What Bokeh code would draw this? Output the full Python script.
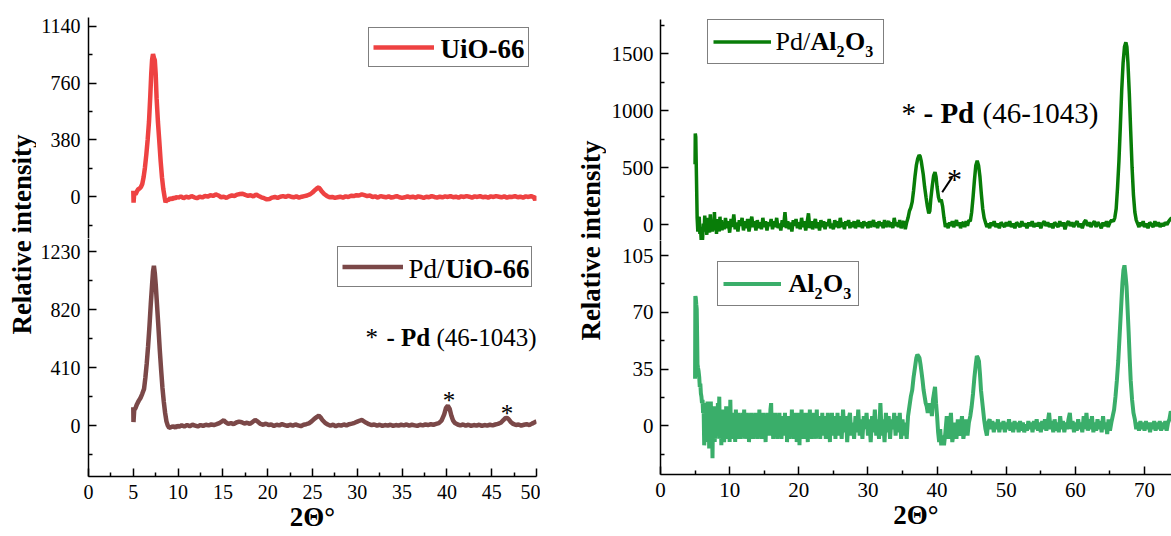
import math
from bokeh.plotting import figure
from bokeh.models import ColumnDataSource, Range1d, FixedTicker, Legend, LegendItem, Label, Arrow
from bokeh.layouts import row, column
from bokeh.embed import file_html
from bokeh.resources import INLINE

FONT = "Liberation Serif"

# ---------------- data (2theta, relative intensity) ----------------
uio66 = [
    (5.0, 40), (5.03, -40), (5.1, 20), (5.25, 15), (5.4, 35), (5.55, 50), (5.7, 55), (5.85, 65),
    (6.0, 85), (6.15, 130), (6.3, 195), (6.45, 280), (6.6, 380), (6.75, 500), (6.9, 680), (7.0, 820),
    (7.1, 920), (7.2, 955), (7.3, 930), (7.4, 915), (7.5, 820), (7.6, 660), (7.75, 500), (7.9, 373),
    (8.05, 240), (8.2, 130), (8.35, 50), (8.5, -5), (8.6, -37), (8.75, -20), (8.9, -25), (9.1, -10),
    (9.3, -18), (9.5, -5), (9.7, -12), (9.9, 0), (10.0, -8), (10.3, 2), (10.6, -10), (10.9, 0),
    (11.2, -6), (11.5, 4), (11.8, -4), (12.1, -10), (12.4, 0), (12.7, -5), (13.0, 5), (13.3, 0),
    (13.6, 10), (13.9, 5), (14.2, 15), (14.5, 8), (14.8, -4), (15.1, 0), (15.4, -8), (15.7, 2),
    (16.0, 8), (16.3, 5), (16.6, 14), (16.9, 18), (17.2, 20), (17.5, 12), (17.8, 6), (18.1, 10),
    (18.4, 2), (18.7, 15), (19.0, 5), (19.3, -4), (19.6, -10), (19.9, -18), (20.2, -15), (20.5, -6),
    (20.8, -2), (21.1, -8), (21.4, 0), (21.7, 4), (22.0, -2), (22.3, 6), (22.6, 0), (22.9, -4),
    (23.2, 2), (23.5, -6), (23.8, 0), (24.1, 4), (24.4, 8), (24.7, 15), (25.0, 28), (25.3, 45),
    (25.55, 58), (25.7, 62), (25.85, 52), (26.0, 38), (26.3, 18), (26.6, 5), (26.9, -4), (27.2, -2),
    (27.5, -8), (27.8, -4), (28.1, 0), (28.4, -6), (28.7, 2), (29.0, -2), (29.3, 6), (29.6, 4),
    (29.9, 10), (30.2, 8), (30.5, 15), (30.8, 10), (31.1, 4), (31.4, 8), (31.7, -2), (32.0, 2),
    (32.3, -6), (32.6, 4), (32.9, 0), (33.2, -4), (33.5, 2), (33.8, -6), (34.1, -2), (34.4, 4),
    (34.7, -4), (35.0, -8), (35.3, -4), (35.6, 2), (35.9, -4), (36.2, 0), (36.5, -6), (36.8, 2),
    (37.1, -2), (37.4, -8), (37.7, 0), (38.0, -4), (38.3, 4), (38.6, -2), (38.9, -6), (39.2, 0),
    (39.5, -4), (39.8, 2), (40.1, -2), (40.4, 4), (40.7, -4), (41.0, 0), (41.3, -6), (41.6, 2),
    (41.9, -2), (42.2, 4), (42.5, 0), (42.8, -6), (43.1, 2), (43.4, -2), (43.7, 4), (44.0, -4),
    (44.3, 0), (44.6, -6), (44.9, 2), (45.2, -2), (45.5, 4), (45.8, 0), (46.1, -4), (46.4, 2),
    (46.7, -6), (47.0, 0), (47.3, -2), (47.6, 4), (47.9, -4), (48.2, 0), (48.5, -6), (48.8, 2),
    (49.1, -2), (49.4, 4), (49.7, -4), (49.85, -22), (50.0, 6),
]

pd_uio66 = [
    (5.0, 130), (5.02, 25), (5.1, 110), (5.25, 125), (5.4, 150), (5.6, 175), (5.8, 195), (6.0, 225),
    (6.2, 260), (6.35, 340), (6.5, 440), (6.65, 560), (6.8, 700), (6.95, 860), (7.1, 1000), (7.2, 1090),
    (7.3, 1130), (7.4, 1080), (7.5, 1000), (7.65, 850), (7.8, 700), (7.95, 540), (8.1, 400), (8.25, 270),
    (8.4, 170), (8.55, 90), (8.7, 30), (8.85, 0), (9.0, -15), (9.15, -12), (9.3, -8), (9.5, -5),
    (9.7, -15), (9.9, 0), (10.1, -8), (10.4, 2), (10.7, -6), (11.0, 4), (11.3, -4), (11.6, 6),
    (11.9, 0), (12.2, -6), (12.5, 4), (12.8, -2), (13.1, 6), (13.4, 2), (13.7, 8), (14.0, 4),
    (14.3, 10), (14.6, 18), (14.9, 30), (15.1, 38), (15.3, 25), (15.6, 12), (15.9, 18), (16.2, 10),
    (16.5, 22), (16.8, 28), (17.1, 24), (17.4, 15), (17.7, 20), (18.0, 12), (18.3, 25), (18.6, 40),
    (18.9, 28), (19.2, 12), (19.5, 6), (19.8, 14), (20.1, 4), (20.4, 8), (20.7, -2), (21.0, 6),
    (21.3, 2), (21.6, 10), (21.9, 4), (22.2, -2), (22.5, 6), (22.8, 0), (23.1, 8), (23.4, 2),
    (23.7, -4), (24.0, 6), (24.3, 10), (24.6, 16), (24.9, 30), (25.2, 48), (25.5, 62), (25.7, 70),
    (25.9, 58), (26.1, 40), (26.4, 20), (26.7, 8), (27.0, 0), (27.3, 6), (27.6, -4), (27.9, 4),
    (28.2, 0), (28.5, 8), (28.8, 2), (29.1, 10), (29.4, 14), (29.7, 20), (30.0, 28), (30.3, 36),
    (30.5, 40), (30.7, 32), (31.0, 20), (31.3, 10), (31.6, 4), (31.9, 8), (32.2, 0), (32.5, 6),
    (32.8, -2), (33.1, 4), (33.4, 0), (33.7, 6), (34.0, -2), (34.3, 4), (34.6, 0), (34.9, 6),
    (35.2, 2), (35.5, 8), (35.8, 0), (36.1, 6), (36.4, 2), (36.7, -2), (37.0, 6), (37.3, 2),
    (37.6, 8), (37.9, 4), (38.2, 10), (38.5, 6), (38.8, 12), (39.1, 18), (39.4, 35), (39.7, 80),
    (39.9, 125), (40.1, 140), (40.3, 120), (40.5, 70), (40.7, 35), (40.9, 18), (41.2, 8), (41.5, 2),
    (41.8, 8), (42.1, 0), (42.4, 6), (42.7, -2), (43.0, 4), (43.3, 0), (43.6, 6), (43.9, -2),
    (44.2, 4), (44.5, 0), (44.8, 6), (45.1, 2), (45.4, 8), (45.7, 12), (46.0, 20), (46.3, 38),
    (46.5, 52), (46.7, 55), (46.9, 45), (47.1, 28), (47.4, 12), (47.7, 4), (48.0, 8), (48.3, 0),
    (48.6, 6), (48.9, 10), (49.2, 4), (49.5, 14), (49.75, 22), (50.0, 30),
]

pd_al2o3 = [
    (5.0, 530), (5.03, 800), (5.1, 770), (5.2, 420), (5.3, 60), (5.4, -60), (5.5, 40), (5.6, 70),
    (5.7, -80), (5.8, -40), (5.9, -150), (6.0, -190), (6.1, -110), (6.2, 10), (6.3, -60), (6.4, 80),
    (6.5, -30), (6.6, 20), (6.7, -90), (6.8, 60), (6.9, -40), (7.0, 30), (7.1, -70), (7.2, 90),
    (7.3, -20), (7.4, 40), (7.5, -60), (7.6, 20), (7.7, -30), (7.8, 110), (7.9, -50), (8.0, 30),
    (8.1, -80), (8.2, 50), (8.3, -20), (8.4, 10), (8.5, -60), (8.6, 70), (8.7, -30), (8.8, 40),
    (8.9, -50), (9.0, 20), (9.2, -40), (9.4, 60), (9.6, -30), (9.8, 30), (10.0, -70), (10.2, 50),
    (10.4, -20), (10.6, 90), (10.8, -40), (11.0, 20), (11.2, -60), (11.4, 40), (11.6, -10), (11.8, 60),
    (12.0, -50), (12.2, 30), (12.4, -30), (12.6, 50), (12.8, -60), (13.0, 10), (13.2, 70), (13.4, -20),
    (13.6, 30), (13.8, -50), (14.0, 40), (14.2, -30), (14.4, 20), (14.6, -40), (14.8, 60), (15.0, -20),
    (15.2, 30), (15.4, -50), (15.6, 20), (15.8, -10), (16.0, 50), (16.2, -40), (16.4, 30), (16.6, -20),
    (16.8, 60), (17.0, -30), (17.2, 10), (17.4, -50), (17.6, 40), (17.8, -20), (18.0, 110), (18.2, -30),
    (18.4, 30), (18.6, -40), (18.8, 20), (19.0, -60), (19.2, 40), (19.4, -10), (19.6, 50), (19.8, -30),
    (20.0, 20), (20.2, -40), (20.4, 60), (20.6, -20), (20.8, 30), (21.0, -50), (21.2, 20), (21.4, 100),
    (21.6, -30), (21.8, 30), (22.0, -40), (22.2, 10), (22.4, 50), (22.6, -30), (22.8, 20), (23.0, -50),
    (23.2, 40), (23.4, -20), (23.6, 30), (23.8, -40), (24.0, 20), (24.2, -10), (24.4, 50), (24.6, -30),
    (24.8, 10), (25.0, -40), (25.2, 40), (25.4, -20), (25.6, 30), (25.8, -30), (26.0, 60), (26.2, -20),
    (26.4, 20), (26.6, -40), (26.8, 30), (27.0, -10), (27.2, 40), (27.4, -30), (27.6, 20), (27.8, -20),
    (28.0, 30), (28.2, -30), (28.4, 10), (28.6, 40), (28.8, -20), (29.0, 20), (29.2, -30), (29.4, 30),
    (29.6, -10), (29.8, 20), (30.0, -30), (30.2, 30), (30.4, -20), (30.6, 10), (30.8, 40), (31.0, -20),
    (31.2, 20), (31.4, -30), (31.6, 30), (31.8, -10), (32.0, 20), (32.2, -30), (32.4, 40), (32.6, -20),
    (32.8, 10), (33.0, 30), (33.2, -20), (33.4, 20), (33.6, -30), (33.8, 60), (34.0, -10), (34.2, 20),
    (34.4, -20), (34.6, 40), (34.8, -30), (35.0, 10), (35.2, 30), (35.4, -40), (35.6, 20), (35.8, 60),
    (36.0, 120), (36.2, 150), (36.4, 200), (36.6, 300), (36.8, 420), (37.0, 520), (37.2, 580), (37.4, 610),
    (37.55, 600), (37.7, 560), (37.85, 500), (38.0, 440), (38.2, 330), (38.4, 240), (38.6, 160), (38.8, 100),
    (38.95, 120), (39.1, 230), (39.3, 340), (39.5, 430), (39.7, 460), (39.85, 420), (40.0, 330), (40.2, 240),
    (40.4, 200), (40.6, 220), (40.8, 160), (41.0, 60), (41.2, -20), (41.4, 10), (41.6, -30), (41.8, 20),
    (42.0, -10), (42.2, 30), (42.4, -20), (42.6, 10), (42.8, 40), (43.0, -10), (43.2, 20), (43.4, -30),
    (43.6, 10), (43.8, 20), (44.0, -20), (44.2, 30), (44.4, -10), (44.6, 40), (44.8, 30), (45.0, 110),
    (45.2, 240), (45.4, 390), (45.6, 520), (45.8, 560), (46.0, 520), (46.2, 420), (46.4, 270), (46.6, 140),
    (46.8, 60), (47.0, 20), (47.2, -20), (47.4, 10), (47.6, -30), (47.8, 20), (48.0, -10), (48.25, 30),
    (48.5, -20), (48.75, 10), (49.0, -30), (49.25, 20), (49.5, 0), (49.75, -20), (50.0, 20), (50.25, -10),
    (50.5, 30), (50.75, -20), (51.0, 10), (51.25, -30), (51.5, 20), (51.75, 0), (52.0, -20), (52.25, 30),
    (52.5, -10), (52.75, 10), (53.0, -30), (53.25, 20), (53.5, -10), (53.75, 30), (54.0, -20), (54.25, 10),
    (54.5, -10), (54.75, 20), (55.0, -30), (55.25, 10), (55.5, 30), (55.75, -10), (56.0, 20), (56.25, -20),
    (56.5, 10), (56.75, -30), (57.0, 20), (57.25, 0), (57.5, -20), (57.75, 30), (58.0, -10), (58.25, 20),
    (58.5, -40), (58.75, 10), (59.0, 30), (59.25, -10), (59.5, 20), (59.75, -20), (60.0, 10), (60.25, 30),
    (60.5, -20), (60.75, 10), (61.0, -30), (61.25, 20), (61.5, 40), (61.75, -10), (62.0, 20), (62.25, -20),
    (62.5, 10), (62.75, 30), (63.0, -20), (63.25, 20), (63.5, 0), (63.75, -30), (64.0, 20), (64.25, -10),
    (64.5, 30), (64.75, -20), (65.0, 20), (65.25, 40), (65.5, 30), (65.7, 60), (65.9, 140), (66.1, 330),
    (66.3, 560), (66.5, 860), (66.7, 1180), (66.9, 1420), (67.1, 1560), (67.3, 1600), (67.45, 1560), (67.6, 1420),
    (67.8, 1150), (68.0, 820), (68.2, 500), (68.4, 260), (68.6, 110), (68.8, 40), (69.0, 10), (69.2, -20),
    (69.4, 20), (69.6, -10), (69.8, 30), (70.0, -20), (70.25, 10), (70.5, -30), (70.75, 20), (71.0, 0),
    (71.25, -20), (71.5, 30), (71.75, -10), (72.0, 20), (72.25, -20), (72.5, 10), (72.75, -10), (73.0, 20),
    (73.25, 0), (73.5, 30), (73.75, 50), (74.0, 60),
]

al2o3 = [
    (5.0, 29), (5.04, 80), (5.1, 79), (5.17, 75), (5.24, 72), (5.3, 55), (5.35, 38), (5.42, 36),
    (5.5, 34), (5.6, 30), (5.68, 24), (5.76, 26), (5.84, 20), (5.92, 18), (6.0, 14), (6.08, 16),
    (6.16, 8), (6.24, 10), (6.32, -12), (6.4, -6), (6.48, 14), (6.56, -10), (6.64, 12), (6.72, -4),
    (6.8, 15), (6.88, -8), (6.96, 10), (7.04, -14), (7.12, 6), (7.2, -6), (7.28, 15), (7.36, -10),
    (7.44, 4), (7.52, -20), (7.6, 8), (7.68, -6), (7.76, 12), (7.84, -10), (7.92, 4), (8.0, -8),
    (8.1, 10), (8.2, -6), (8.3, 14), (8.4, -4), (8.5, 18), (8.6, -8), (8.7, 6), (8.8, -12),
    (8.9, 10), (9.0, -4), (9.1, 8), (9.2, -10), (9.3, 4), (9.4, -6), (9.5, 12), (9.6, -8),
    (9.7, 6), (9.8, -4), (9.9, 10), (10.0, -10), (10.1, 16), (10.2, -6), (10.3, 4), (10.4, -8),
    (10.5, 8), (10.6, -4), (10.7, 6), (10.8, -10), (10.9, 10), (11.0, -6), (11.1, 4), (11.2, -8),
    (11.3, 8), (11.4, -2), (11.5, 6), (11.6, -8), (11.7, 4), (11.8, -6), (11.9, 8), (12.0, -4),
    (12.1, 10), (12.2, -8), (12.3, 2), (12.4, -6), (12.5, 8), (12.6, -4), (12.7, 6), (12.8, -10),
    (12.9, 4), (13.0, -4), (13.1, 8), (13.2, -6), (13.3, 6), (13.4, -8), (13.5, 4), (13.6, -2),
    (13.7, 8), (13.8, -6), (13.9, 4), (14.0, -8), (14.1, 6), (14.2, -4), (14.3, 10), (14.4, -6),
    (14.5, 2), (14.6, -8), (14.7, 6), (14.8, -4), (14.9, 8), (15.0, -6), (15.1, 4), (15.2, -10),
    (15.3, 6), (15.4, -2), (15.5, 8), (15.6, -6), (15.7, 4), (15.8, -4), (15.9, 10), (16.0, 14),
    (16.1, -6), (16.2, 4), (16.3, -8), (16.4, 6), (16.5, -2), (16.6, 8), (16.7, -6), (16.8, 4),
    (16.9, -8), (17.0, 6), (17.1, -4), (17.2, 8), (17.3, -6), (17.4, 2), (17.5, -8), (17.6, 6),
    (17.7, -4), (17.8, 4), (17.9, -6), (18.0, 8), (18.1, -4), (18.2, 6), (18.3, -10), (18.4, 4),
    (18.5, -2), (18.6, 6), (18.7, -8), (18.8, 4), (18.9, -4), (19.0, 10), (19.1, -6), (19.2, 4),
    (19.3, -8), (19.4, 6), (19.5, -4), (19.6, 8), (19.7, -10), (19.8, 4), (19.9, -2), (20.0, 8),
    (20.1, -12), (20.2, 6), (20.3, -4), (20.4, 10), (20.5, -6), (20.6, 4), (20.7, -8), (20.8, 6),
    (20.9, -4), (21.0, 8), (21.1, -6), (21.2, 4), (21.3, -10), (21.4, 6), (21.5, -2), (21.6, 10),
    (21.7, -6), (21.8, 4), (21.9, -8), (22.0, 6), (22.1, -4), (22.2, 8), (22.3, -6), (22.4, 4),
    (22.5, -8), (22.6, 10), (22.7, -4), (22.8, 6), (22.9, -6), (23.0, 4), (23.1, -8), (23.2, 6),
    (23.3, -2), (23.4, 8), (23.5, -6), (23.6, 4), (23.7, -4), (23.8, 6), (23.9, -8), (24.0, 4),
    (24.1, -2), (24.2, 8), (24.3, -6), (24.4, 4), (24.5, -10), (24.6, 6), (24.7, -4), (24.8, 8),
    (24.9, -6), (25.0, 4), (25.1, -4), (25.2, 6), (25.3, -8), (25.4, 4), (25.5, -2), (25.6, 8),
    (25.7, -6), (25.8, 4), (25.9, -6), (26.0, 6), (26.2, -8), (26.4, 10), (26.6, -4), (26.8, 6),
    (27.0, -10), (27.2, 4), (27.4, 8), (27.6, -6), (27.8, 2), (28.0, -8), (28.2, 6), (28.4, -4),
    (28.6, 10), (28.8, -6), (29.0, 4), (29.2, -8), (29.4, 6), (29.6, -2), (29.8, 8), (30.0, -6),
    (30.2, 4), (30.4, -10), (30.6, 6), (30.8, -4), (31.0, 10), (31.2, -6), (31.4, 4), (31.6, -8),
    (31.8, 14), (32.0, -6), (32.2, 4), (32.4, -10), (32.6, 8), (32.8, -4), (33.0, 6), (33.2, -8),
    (33.4, 4), (33.6, -2), (33.8, 8), (34.0, -6), (34.2, 6), (34.4, -4), (34.6, 8), (34.8, -8),
    (35.0, 4), (35.2, -6), (35.4, 2), (35.6, -8), (35.8, 6), (36.0, 12), (36.2, 18), (36.4, 22),
    (36.6, 30), (36.8, 36), (37.0, 42), (37.15, 44), (37.3, 43), (37.45, 42), (37.6, 38), (37.75, 33),
    (37.9, 28), (38.05, 22), (38.2, 18), (38.35, 14), (38.5, 12), (38.65, 8), (38.8, 14), (38.95, 8),
    (39.1, 12), (39.25, 6), (39.4, 16), (39.55, 20), (39.7, 24), (39.85, 14), (40.0, 6), (40.15, -4),
    (40.3, -10), (40.45, -2), (40.6, -12), (40.8, -6), (41.0, -12), (41.2, -4), (41.4, 6), (41.6, -8),
    (41.8, -2), (42.0, 8), (42.2, -10), (42.4, -4), (42.6, 2), (42.8, -8), (43.0, 4), (43.2, -6),
    (43.4, -2), (43.6, 6), (43.8, -8), (44.0, -2), (44.2, 4), (44.4, -6), (44.6, 2), (44.8, 6),
    (45.0, 12), (45.2, 20), (45.4, 30), (45.6, 38), (45.75, 43), (45.9, 42), (46.05, 40), (46.2, 32),
    (46.35, 22), (46.5, 16), (46.65, 10), (46.8, 4), (47.0, -2), (47.2, -6), (47.4, 2), (47.6, 4),
    (47.8, -2), (48.0, 3), (48.2, -4), (48.4, 2), (48.6, -2), (48.8, 4), (49.0, -4), (49.2, 2),
    (49.4, -2), (49.6, 3), (49.8, -4), (50.0, 2), (50.2, -2), (50.4, 4), (50.6, -3), (50.8, 2),
    (51.0, -4), (51.2, 3), (51.4, -2), (51.6, 2), (51.8, -4), (52.0, 3), (52.2, -3), (52.4, 2),
    (52.6, -4), (52.8, 1), (53.0, -3), (53.2, 3), (53.4, -2), (53.6, 2), (53.8, -4), (54.0, 3),
    (54.2, -2), (54.4, 4), (54.6, -3), (54.8, 2), (55.0, -4), (55.2, 3), (55.4, -2), (55.6, 4),
    (55.8, -3), (56.0, 2), (56.2, 8), (56.4, -2), (56.6, 3), (56.8, -4), (57.0, 4), (57.2, -3),
    (57.4, 2), (57.6, -4), (57.8, 6), (58.0, -2), (58.2, 3), (58.4, -4), (58.6, 2), (58.8, -2),
    (59.0, 4), (59.2, 8), (59.4, -2), (59.6, 3), (59.8, -4), (60.0, 2), (60.2, -3), (60.4, 4),
    (60.6, -2), (60.8, 2), (61.0, -4), (61.2, 6), (61.4, -2), (61.6, 8), (61.8, -3), (62.0, 4),
    (62.2, -2), (62.4, 6), (62.6, -4), (62.8, 2), (63.0, -3), (63.2, 4), (63.4, -2), (63.6, 3),
    (63.8, -4), (64.0, 6), (64.2, -2), (64.4, 2), (64.6, -5), (64.8, 4), (65.0, -3), (65.2, 2),
    (65.4, 6), (65.6, 10), (65.8, 18), (66.0, 28), (66.2, 40), (66.4, 56), (66.6, 72), (66.8, 88),
    (66.95, 96), (67.1, 99), (67.25, 93), (67.4, 86), (67.55, 72), (67.7, 58), (67.85, 42), (68.0, 28),
    (68.2, 16), (68.4, 8), (68.6, 4), (68.8, -2), (69.0, 2), (69.2, -3), (69.4, 3), (69.6, -2),
    (69.8, 2), (70.0, -3), (70.2, 3), (70.4, -2), (70.6, 2), (70.8, -4), (71.0, 2), (71.2, -2),
    (71.4, 3), (71.6, -3), (71.8, 2), (72.0, -2), (72.2, 3), (72.4, -3), (72.6, 2), (72.8, -2),
    (73.0, 3), (73.2, -3), (73.4, 2), (73.6, 4), (73.8, 9), (74.0, 6),
]

# axis ticks
left_x_ticks = [0, 5, 10, 15, 20, 25, 30, 35, 40, 45, 50]
left_x_minor = [2.5, 7.5, 12.5, 17.5, 22.5, 27.5, 32.5, 37.5, 42.5, 47.5]
right_x_ticks = [0, 10, 20, 30, 40, 50, 60, 70]
right_x_minor = [5, 15, 25, 35, 45, 55, 65]
uio_y_ticks = [0, 380, 760, 1140]
uio_y_minor = [-190, 190, 570, 950]
pduio_y_ticks = [0, 410, 820, 1230]
pduio_y_minor = [-205, 205, 615, 1025]
pdal_y_ticks = [0, 500, 1000, 1500]
pdal_y_minor = [250, 750, 1250, 1750]
al_y_ticks = [0, 35, 70, 105]
al_y_minor = [-17.5, 17.5, 52.5, 87.5]

# ---------------- helpers ----------------
def src(pairs):
    return ColumnDataSource(dict(x=[p[0] for p in pairs], y=[p[1] for p in pairs]))


def make_fig(width, height, xr, yr, borders, x_axis):
    p = figure(width=width, height=height, x_range=Range1d(*xr), y_range=Range1d(*yr),
               output_backend="svg", toolbar_location=None, tools="",
               x_axis_location="below" if x_axis else None, y_axis_location="left",
               min_border_left=borders[0], min_border_right=borders[1],
               min_border_top=borders[2], min_border_bottom=borders[3])
    p.outline_line_color = None
    p.xgrid.visible = False
    p.ygrid.visible = False
    p.background_fill_color = "white"
    p.border_fill_color = "white"
    return p


def style_axis(ax, ticks, minor, fs, standoff):
    ax.ticker = FixedTicker(ticks=ticks, minor_ticks=minor)
    ax.axis_line_color = "black"
    ax.axis_line_width = 1.5
    ax.major_tick_in = 8
    ax.major_tick_out = 0
    ax.minor_tick_in = 4
    ax.minor_tick_out = 0
    ax.major_tick_line_width = 1.5
    ax.minor_tick_line_width = 1.5
    ax.major_tick_line_color = "black"
    ax.minor_tick_line_color = "black"
    ax.major_label_text_font = FONT
    ax.major_label_text_font_size = fs
    ax.major_label_text_color = "black"
    ax.major_label_standoff = standoff


def add_legend(p, r, loc, pad, gw, lw, gh):
    leg = Legend(items=[LegendItem(label=" ", renderers=[r])], location=loc,
                 padding=pad, margin=0, spacing=0, glyph_width=gw, glyph_height=gh,
                 label_width=lw, label_height=gh, label_standoff=0,
                 label_text_font_size="1px", border_line_color="black", border_line_width=1,
                 background_fill_alpha=0.0)
    p.add_layout(leg)


def txt(p, x, y, s, size, bold=False, align="left"):
    p.add_layout(Label(x=x, y=y, text=s, text_font=FONT, text_font_size=size,
                       text_font_style="bold" if bold else "normal", text_color="black",
                       text_align=align, text_baseline="middle", level="overlay"))


def add_xlabel(p, standoff):
    ax = p.xaxis[0]
    ax.axis_label = "2\u0398\u00b0"
    ax.axis_label_text_font = FONT
    ax.axis_label_text_font_size = "27px"
    ax.axis_label_text_font_style = "bold"
    ax.axis_label_text_color = "black"
    ax.axis_label_standoff = standoff


RED = "#EE4242"
BROWN = "#7B4848"
DGREEN = "#087D08"
LGREEN = "#3AAE6A"

# ---------------- left panel ----------------
lt = make_fig(504, 238, (0, 50), (-280, 1200), (52, 4, 17, 0), False)
r1 = lt.line("x", "y", source=src(uio66), line_color=RED, line_width=4.5)
style_axis(lt.yaxis[0], uio_y_ticks, uio_y_minor, "20px", 8)
add_legend(lt, r1, (280, 171), 4, 61, 90, 30)
txt(lt, 39.29, 992, "UiO-66", "27px", bold=True)

lb = make_fig(504, 298, (0, 50), (-360, 1323.7), (52, 4, 0, 60), True)
r2 = lb.line("x", "y", source=src(pd_uio66), line_color=BROWN, line_width=4.5)
style_axis(lb.yaxis[0], pduio_y_ticks, pduio_y_minor, "20px", 8)
style_axis(lb.xaxis[0], left_x_ticks, left_x_minor, "20px", 8)
add_xlabel(lb, 0)
add_legend(lb, r2, (249, 189), 4, 61, 124, 31)
txt(lb, 35.71, 1111, "Pd/", "27px")
txt(lb, 39.84, 1111, "UiO-66", "27px", bold=True)
txt(lb, 30.92, 623, "*", "25px")
txt(lb, 33.26, 623, "- Pd", "25px", bold=True)
txt(lb, 38.84, 623, "(46-1043)", "25px")
txt(lb, 40.23, 181, "*", "25px", align="center")
txt(lb, 46.71, 86, "*", "25px", align="center")

# ---------------- right panel ----------------
XR = (0, 73.9)
rt = make_fig(565, 240, XR, (-138.6, 1800), (54, 0, 19, 0), False)
r3 = rt.line("x", "y", source=src(pd_al2o3), line_color=DGREEN, line_width=3.5)
style_axis(rt.yaxis[0], pdal_y_ticks, pdal_y_minor, "21px", 7)
add_legend(rt, r3, (47, 176), 5, 58, 107, 33)
txt(rt, 16.63, 1603, "Pd/", "26px")
txt(rt, 21.69, 1603, "Al", "26px", bold=True)
txt(rt, 25.45, 1522, "2", "16px", bold=True)
txt(rt, 26.68, 1603, "O", "26px", bold=True)
txt(rt, 29.60, 1522, "3", "16px", bold=True)
txt(rt, 34.85, 980, "*", "29px")
txt(rt, 38.03, 980, "- Pd", "29px", bold=True)
txt(rt, 46.57, 980, "(46-1043)", "29px")
rt.add_layout(Arrow(end=None, x_start=40.74, y_start=285, x_end=42.19, y_end=417,
                    line_color="black", line_width=2))
txt(rt, 42.52, 405, "*", "30px", align="center")

rb = make_fig(565, 296, XR, (-30, 114.3), (54, 0, 0, 62), True)
r4 = rb.line("x", "y", source=src(al2o3), line_color=LGREEN, line_width=4)
style_axis(rb.yaxis[0], al_y_ticks, al_y_minor, "21px", 7)
style_axis(rb.xaxis[0], right_x_ticks, right_x_minor, "21px", 8)
add_xlabel(rb, 0)
add_legend(rb, r4, (57, 168), 5, 58, 72, 33)
txt(rb, 18.51, 87.5, "Al", "26px", bold=True)
txt(rb, 22.27, 81.8, "2", "16px", bold=True)
txt(rb, 23.50, 87.5, "O", "26px", bold=True)
txt(rb, 26.42, 81.8, "3", "16px", bold=True)

# ---------------- y-axis titles ----------------
def ylabel_fig(width, cx, cy):
    f = figure(width=width, height=536, x_range=Range1d(0, width), y_range=Range1d(0, 536),
               output_backend="svg", toolbar_location=None, tools="",
               x_axis_location=None, y_axis_location=None, min_border=0)
    f.outline_line_color = None
    f.xgrid.visible = False
    f.ygrid.visible = False
    f.add_layout(Label(x=cx, y=536 - cy, text="Relative intensity", angle=math.pi / 2,
                       text_font=FONT, text_font_size="27px", text_font_style="bold",
                       text_color="black", text_align="center", text_baseline="middle"))
    return f

yl_left = ylabel_fig(36, 21, 234)
yl_right = ylabel_fig(66, 50, 240)

layout = row(yl_left, column(lt, lb, spacing=0), yl_right, column(rt, rb, spacing=0), spacing=0)

open("out.html", "w").write(file_html(layout, INLINE))
